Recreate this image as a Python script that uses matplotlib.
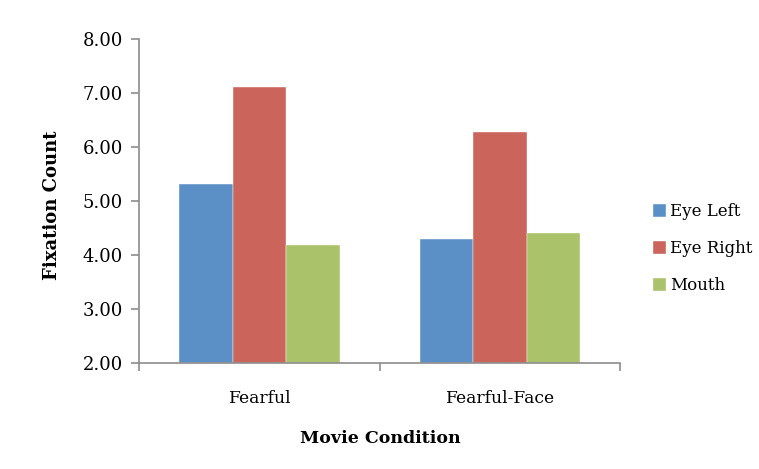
import matplotlib
matplotlib.use("Agg")
import matplotlib.pyplot as plt
import numpy as np

conditions = ["Fearful", "Fearful-Face"]
series_names = ["Eye Left", "Eye Right", "Mouth"]
eye_left = [5.31, 4.29]
eye_right = [7.11, 6.27]
mouth = [4.18, 4.41]
y_ticks = [2.0, 3.0, 4.0, 5.0, 6.0, 7.0, 8.0]

colors = ["#5B90C6", "#CB655C", "#AAC26A"]
font = "DejaVu Serif"

fig = plt.figure(figsize=(7.59, 4.69), dpi=100)
ax = fig.add_axes([139.3 / 759, 1 - 362.7 / 469, (620 - 139.3) / 759, (362.7 - 39) / 469])

x = np.arange(len(conditions))
width = 0.222
for i, (name, vals) in enumerate(zip(series_names, [eye_left, eye_right, mouth])):
    ax.bar(x + (i - 1) * width, np.array(vals) - 2.0, width, bottom=2.0,
           color=colors[i], label=name, edgecolor="white", linewidth=0.3)

ax.set_xlim(-0.5, 1.5)
ax.set_ylim(2.0, 8.0)
ax.set_yticks(y_ticks)
ax.set_yticklabels([f"{v:.2f}" for v in y_ticks], fontfamily=font, fontsize=13)

ax.set_xticks([-0.5, 0.5, 1.5], minor=False)
ax.set_xticklabels([])
ax.set_xticks(x, minor=True)
ax.set_xticklabels(conditions, minor=True, fontfamily=font, fontsize=12.3)
ax.tick_params(axis="x", which="minor", length=0, pad=20)
ax.tick_params(axis="x", which="major", length=6, color="#8C8C8C", width=1.2)
ax.tick_params(axis="y", length=6, color="#8C8C8C", width=1.2, pad=6)

for side in ["top", "right"]:
    ax.spines[side].set_visible(False)
for side in ["left", "bottom"]:
    ax.spines[side].set_color("#8C8C8C")
    ax.spines[side].set_linewidth(1.2)

fig.text(52 / 759, 1 - 205 / 469, "Fixation Count", rotation=90, ha="center", va="center",
         fontfamily=font, fontsize=13, fontweight="bold")
fig.text(380 / 759, 1 - 438 / 469, "Movie Condition", ha="center", va="center",
         fontfamily=font, fontsize=12.5, fontweight="bold")

leg = fig.legend(loc="center left", bbox_to_anchor=(638 / 759, 1 - 248.5 / 469),
                 frameon=False, prop={"family": font, "size": 12},
                 handlelength=0.8, handleheight=0.8, handletextpad=0.2,
                 labelspacing=1.2)

fig.savefig("out.png", dpi=100)
